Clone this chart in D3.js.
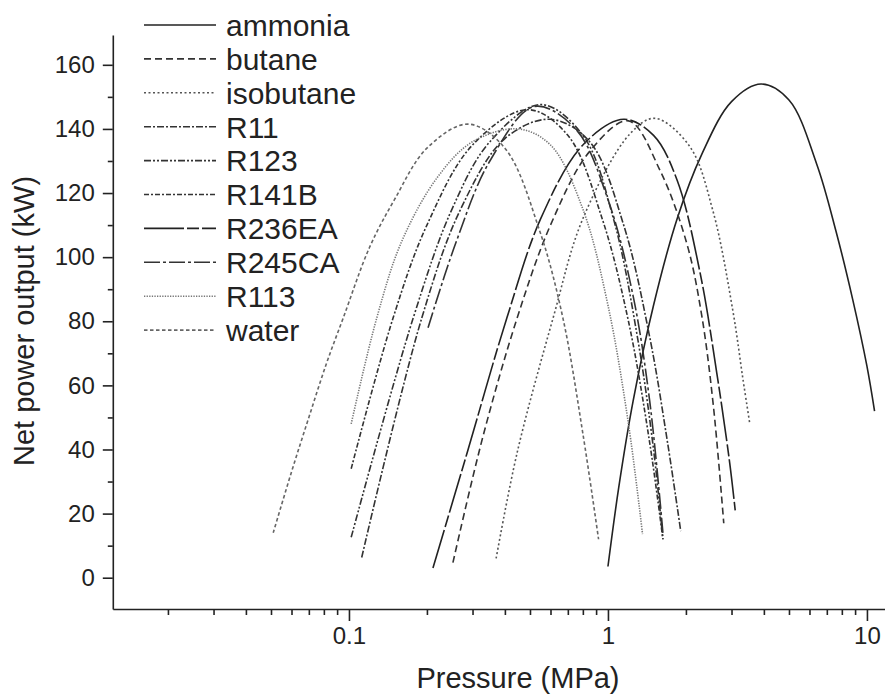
<!DOCTYPE html>
<html><head><meta charset="utf-8">
<script src="https://cdn.jsdelivr.net/npm/d3@7"></script>
<style>body{margin:0;background:#fff}svg{display:block}text{font-family:"Liberation Sans",Arial,sans-serif;fill:#222}</style>
</head><body><svg id="c" width="885" height="698"></svg>
<script>
const seriesNames = ["ammonia","butane","isobutane","R11","R123","R141B","R236EA","R245CA","R113","water"];
const dashes = ["", "7,4", "2,2.5", "7,2,2,2", "7,2,2,2,2,2", "5,2,2,2", "40,3,12,3", "16,3,3,3", "1.3,1.3", "3.5,2.5"];
const colors = ["#222","#333","#555","#333","#333","#333","#222","#333","#777","#666"];
const yTicksMajor = [0,20,40,60,80,100,120,140,160];
const yTicksMinor = [10,30,50,70,90,110,130,150];
const xTicksMajor = [0.1,1,10];
const xTicksMinor = [0.02,0.03,0.04,0.05,0.06,0.07,0.08,0.09,0.2,0.3,0.4,0.5,0.6,0.7,0.8,0.9,2,3,4,5,6,7,8,9];

// [pressure MPa, net power kW]
const ammonia = [[1.0,3.5],[1.1,28],[1.25,55],[1.5,85],[1.85,112],[2.3,132],[3.0,148.5],[3.9,154],[5.0,149],[6.4,129],[7.6,108],[8.8,87],[10,66],[10.7,52]];
const butane = [[0.252,4.7],[0.329,44],[0.446,81],[0.6,110],[0.85,133],[1.2,142.5],[1.59,127],[2.02,104],[2.3,82],[2.55,54],[2.8,17]];
const isobutane = [[0.37,6],[0.446,39],[0.614,81],[0.80,112],[1.22,138.6],[1.52,143.3],[2.07,134.5],[2.54,114.6],[3.04,83],[3.32,62],[3.53,48]];
const R11 = [[0.112,6.3],[0.191,81],[0.27,115],[0.4,137],[0.6,143],[0.85,136],[1.15,110],[1.45,75],[1.7,42],[1.91,14.5]];
const R123 = [[0.102,12.6],[0.177,81],[0.25,115],[0.35,136],[0.55,147.6],[0.8,138],[1.05,112],[1.3,75],[1.5,40],[1.63,12]];
const R141B = [[0.102,34],[0.148,81],[0.2,110],[0.3,135],[0.49,146],[0.7,138],[0.95,112],[1.2,80],[1.45,42],[1.63,12]];
const R236EA = [[0.211,3],[0.286,39],[0.407,81],[0.55,112],[0.8,135],[1.15,143],[1.5,138],[1.85,124],[2.27,95],[2.63,64],[2.95,36],[3.1,21]];
const R245CA = [[0.202,78],[0.26,105],[0.35,130],[0.52,147],[0.75,140],[1.0,118],[1.25,88],[1.45,55],[1.63,14]];
const R113 = [[0.102,48],[0.128,81],[0.16,105],[0.22,125],[0.3,136],[0.45,140],[0.6,135],[0.8,115],[1.0,85],[1.2,48],[1.36,13.6]];
const water = [[0.051,14],[0.06,33],[0.07,50],[0.082,67],[0.095,81],[0.12,103],[0.15,118],[0.2,134],[0.288,141.5],[0.4,134],[0.546,108],[0.67,81],[0.8,45],[0.92,12]];
const seriesData = [ammonia,butane,isobutane,R11,R123,R141B,R236EA,R245CA,R113,water];

const svg = d3.select("#c");
const x = d3.scaleLog().domain([0.01225, 11.7]).range([112.8, 884.6]);
const y = d3.scaleLinear().domain([-9.76, 169.3]).range([609, 35]);

const gx = svg.append("g").attr("transform","translate(0,609)");
gx.call(d3.axisBottom(x).tickValues(xTicksMinor).tickSize(6).tickSizeOuter(0).tickFormat(""));
const gx2 = svg.append("g").attr("transform","translate(0,609)");
gx2.call(d3.axisBottom(x).tickValues(xTicksMajor).tickSize(12).tickSizeOuter(0).tickPadding(6).tickFormat(d=>d3.format("~g")(d)));
gx2.select(".domain").remove();
const gy = svg.append("g").attr("transform","translate(112.8,0)");
gy.call(d3.axisLeft(y).tickValues(yTicksMinor).tickSize(5).tickSizeOuter(0).tickFormat(""));
const gy2 = svg.append("g").attr("transform","translate(112.8,0)");
gy2.call(d3.axisLeft(y).tickValues(yTicksMajor).tickSize(10).tickSizeOuter(0).tickPadding(8));
gy2.select(".domain").remove();
svg.selectAll(".domain, .tick line").attr("stroke","#222").attr("stroke-width",1.6);
svg.selectAll(".tick text").attr("font-size",24).attr("font-family","Liberation Sans, Arial, sans-serif").attr("fill","#222");

svg.append("text").attr("x",518).attr("y",688).attr("text-anchor","middle").attr("font-size",29).text("Pressure (MPa)");
svg.append("text").attr("transform","translate(34,321) rotate(-90)").attr("text-anchor","middle").attr("font-size",29).text("Net power output (kW)");

const line = d3.line().x(d=>x(d[0])).y(d=>y(d[1])).curve(d3.curveCatmullRom.alpha(0.5));
seriesData.forEach((s,i)=>{
  svg.append("path").datum(s).attr("d",line).attr("fill","none")
    .attr("stroke",colors[i]).attr("stroke-width",1.6).attr("stroke-dasharray",dashes[i]);
});

const lg = svg.append("g");
seriesNames.forEach((n,i)=>{
  const yy = 25 + i*33.9;
  lg.append("line").attr("x1",144).attr("x2",216).attr("y1",yy).attr("y2",yy)
    .attr("stroke",colors[i]).attr("stroke-width",1.6).attr("stroke-dasharray",dashes[i]);
  lg.append("text").attr("x",226).attr("y",yy).attr("dy","0.36em").attr("font-size",30).text(n);
});
</script></body></html>
